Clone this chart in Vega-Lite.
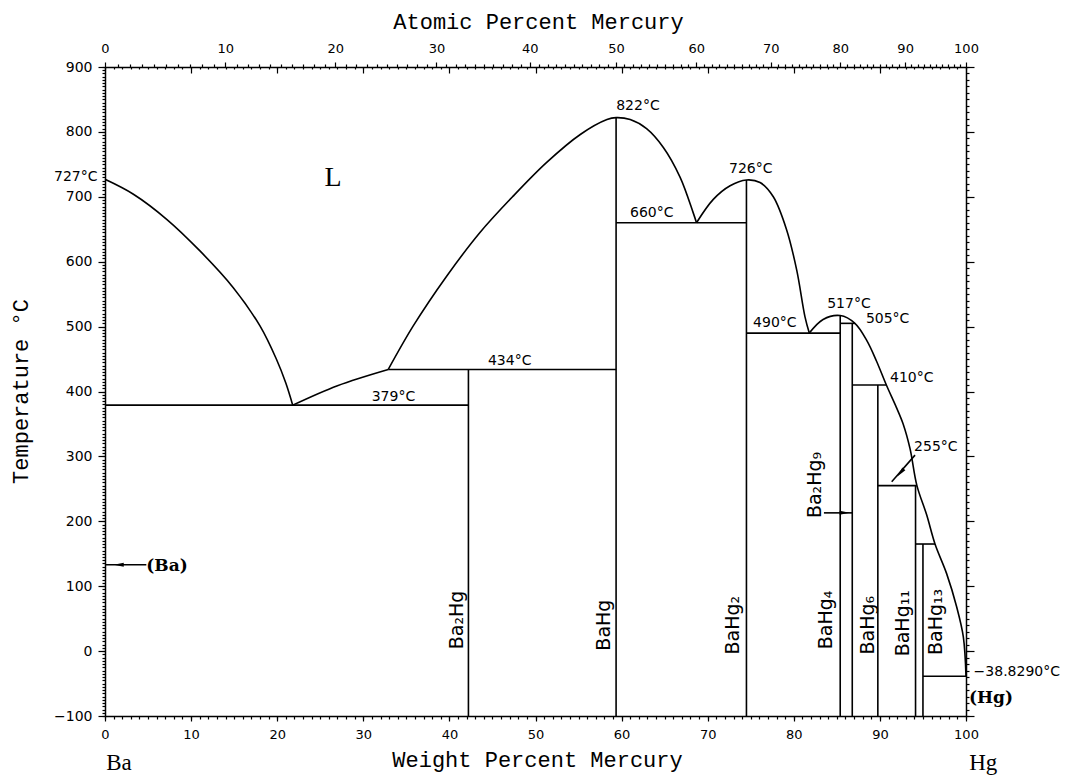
{
  "$schema": "https://vega.github.io/schema/vega-lite/v6.json",
  "width": 861,
  "height": 649,
  "autosize": {"type": "none"},
  "padding": {"left": 105, "top": 67, "right": 102, "bottom": 63},
  "background": "white",
  "config": {
    "view": {"stroke": null},
    "axis": {"domainColor": "black", "tickColor": "black", "labelColor": "black", "titleColor": "black", "grid": false, "labelFont": "DejaVu Sans", "labelFontSize": 13, "domainWidth": 1.5, "tickWidth": 1.2, "labelFlush": false, "labelOverlap": false}
  },
  "datasets": {
    "segs": [
      {"seg": "s1", "i": 0, "x": 0, "t": 379}, {"seg": "s1", "i": 1, "x": 42.21, "t": 379},
      {"seg": "s2", "i": 0, "x": 32.9, "t": 434}, {"seg": "s2", "i": 1, "x": 59.36, "t": 434},
      {"seg": "s3", "i": 0, "x": 42.21, "t": 434}, {"seg": "s3", "i": 1, "x": 42.21, "t": -100},
      {"seg": "s4", "i": 0, "x": 59.36, "t": 822}, {"seg": "s4", "i": 1, "x": 59.36, "t": -100},
      {"seg": "s5", "i": 0, "x": 59.36, "t": 660}, {"seg": "s5", "i": 1, "x": 74.5, "t": 660},
      {"seg": "s6", "i": 0, "x": 74.5, "t": 726}, {"seg": "s6", "i": 1, "x": 74.5, "t": -100},
      {"seg": "s7", "i": 0, "x": 74.5, "t": 490}, {"seg": "s7", "i": 1, "x": 85.39, "t": 490},
      {"seg": "s8", "i": 0, "x": 85.39, "t": 517}, {"seg": "s8", "i": 1, "x": 85.39, "t": -100},
      {"seg": "s9", "i": 0, "x": 85.39, "t": 505}, {"seg": "s9", "i": 1, "x": 87.1, "t": 505},
      {"seg": "s10", "i": 0, "x": 86.79, "t": 505}, {"seg": "s10", "i": 1, "x": 86.79, "t": -100},
      {"seg": "s11", "i": 0, "x": 86.79, "t": 410}, {"seg": "s11", "i": 1, "x": 90.75, "t": 410},
      {"seg": "s12", "i": 0, "x": 89.76, "t": 410}, {"seg": "s12", "i": 1, "x": 89.76, "t": -100},
      {"seg": "s13", "i": 0, "x": 89.76, "t": 255}, {"seg": "s13", "i": 1, "x": 94.3, "t": 255},
      {"seg": "s14", "i": 0, "x": 94.14, "t": 255}, {"seg": "s14", "i": 1, "x": 94.14, "t": -100},
      {"seg": "s15", "i": 0, "x": 94.14, "t": 165}, {"seg": "s15", "i": 1, "x": 96.4, "t": 165},
      {"seg": "s16", "i": 0, "x": 95.0, "t": 165}, {"seg": "s16", "i": 1, "x": 95.0, "t": -100},
      {"seg": "s17", "i": 0, "x": 95.0, "t": -38.83}, {"seg": "s17", "i": 1, "x": 100, "t": -38.83},
      {"seg": "a1", "i": 0, "x": 0, "t": 133}, {"seg": "a1", "i": 1, "x": 4.8, "t": 133},
      {"seg": "a2", "i": 0, "x": 83.5, "t": 213}, {"seg": "a2", "i": 1, "x": 86.79, "t": 213},
      {"seg": "a3", "i": 0, "x": 94.08, "t": 302}, {"seg": "a3", "i": 1, "x": 91.37, "t": 261}
    ],
    "curves": [
      {"seg": "c1", "i": 0, "x": 0, "t": 727}, {"seg": "c1", "i": 1, "x": 3.3, "t": 704}, {"seg": "c1", "i": 2, "x": 7.2, "t": 665}, {"seg": "c1", "i": 3, "x": 11.0, "t": 617}, {"seg": "c1", "i": 4, "x": 14.9, "t": 560}, {"seg": "c1", "i": 5, "x": 18.0, "t": 501}, {"seg": "c1", "i": 6, "x": 19.9, "t": 450}, {"seg": "c1", "i": 7, "x": 21.0, "t": 413}, {"seg": "c1", "i": 8, "x": 21.8, "t": 379},
      {"seg": "c2", "i": 0, "x": 21.8, "t": 379}, {"seg": "c2", "i": 1, "x": 27.0, "t": 409}, {"seg": "c2", "i": 2, "x": 32.9, "t": 434},
      {"seg": "c3", "i": 0, "x": 32.9, "t": 434}, {"seg": "c3", "i": 1, "x": 35.8, "t": 501}, {"seg": "c3", "i": 2, "x": 39.7, "t": 578}, {"seg": "c3", "i": 3, "x": 43.55, "t": 645}, {"seg": "c3", "i": 4, "x": 47.4, "t": 701}, {"seg": "c3", "i": 5, "x": 51.3, "t": 753}, {"seg": "c3", "i": 6, "x": 55.2, "t": 796}, {"seg": "c3", "i": 7, "x": 58.3, "t": 819}, {"seg": "c3", "i": 8, "x": 59.36, "t": 822}, {"seg": "c3", "i": 9, "x": 61.0, "t": 819}, {"seg": "c3", "i": 10, "x": 62.9, "t": 805}, {"seg": "c3", "i": 11, "x": 64.85, "t": 776}, {"seg": "c3", "i": 12, "x": 66.8, "t": 730}, {"seg": "c3", "i": 13, "x": 68.3, "t": 676}, {"seg": "c3", "i": 14, "x": 68.7, "t": 660},
      {"seg": "c4", "i": 0, "x": 68.7, "t": 660}, {"seg": "c4", "i": 1, "x": 70.65, "t": 696}, {"seg": "c4", "i": 2, "x": 72.6, "t": 717}, {"seg": "c4", "i": 3, "x": 74.5, "t": 726}, {"seg": "c4", "i": 4, "x": 76.08, "t": 722}, {"seg": "c4", "i": 5, "x": 77.62, "t": 700}, {"seg": "c4", "i": 6, "x": 79.17, "t": 649}, {"seg": "c4", "i": 7, "x": 80.34, "t": 587}, {"seg": "c4", "i": 8, "x": 81.3, "t": 515}, {"seg": "c4", "i": 9, "x": 81.8, "t": 490},
      {"seg": "c5", "i": 0, "x": 81.8, "t": 490}, {"seg": "c5", "i": 1, "x": 83.4, "t": 511}, {"seg": "c5", "i": 2, "x": 85.39, "t": 517}, {"seg": "c5", "i": 3, "x": 87.1, "t": 505}, {"seg": "c5", "i": 4, "x": 88.5, "t": 478}, {"seg": "c5", "i": 5, "x": 89.6, "t": 447}, {"seg": "c5", "i": 6, "x": 90.75, "t": 410}, {"seg": "c5", "i": 7, "x": 91.9, "t": 376}, {"seg": "c5", "i": 8, "x": 92.7, "t": 350}, {"seg": "c5", "i": 9, "x": 93.5, "t": 312}, {"seg": "c5", "i": 10, "x": 94.3, "t": 255}, {"seg": "c5", "i": 11, "x": 95.43, "t": 210}, {"seg": "c5", "i": 12, "x": 96.4, "t": 165}, {"seg": "c5", "i": 13, "x": 97.76, "t": 119}, {"seg": "c5", "i": 14, "x": 98.92, "t": 68}, {"seg": "c5", "i": 15, "x": 99.69, "t": 22}, {"seg": "c5", "i": 16, "x": 100, "t": -38.83}
    ],
    "tlabels": [
      {"x": -3.4, "t": 731, "label": "727°C"},
      {"x": 61.9, "t": 840, "label": "822°C"},
      {"x": 75.0, "t": 743, "label": "726°C"},
      {"x": 63.5, "t": 675, "label": "660°C"},
      {"x": 77.8, "t": 505, "label": "490°C"},
      {"x": 86.4, "t": 535, "label": "517°C"},
      {"x": 90.9, "t": 512, "label": "505°C"},
      {"x": 93.7, "t": 421, "label": "410°C"},
      {"x": 96.5, "t": 315, "label": "255°C"},
      {"x": 47.0, "t": 447, "label": "434°C"},
      {"x": 33.5, "t": 392, "label": "379°C"},
      {"x": 105.9, "t": -32, "label": "−38.8290°C"}
    ],
    "compounds": [
      {"x": 40.9, "t": 48, "label": "Ba₂Hg"},
      {"x": 57.96, "t": 40, "label": "BaHg"},
      {"x": 72.9, "t": 40, "label": "BaHg₂"},
      {"x": 82.46, "t": 256, "label": "Ba₂Hg₉"},
      {"x": 83.74, "t": 48, "label": "BaHg₄"},
      {"x": 88.6, "t": 40, "label": "BaHg₆"},
      {"x": 92.7, "t": 43, "label": "BaHg₁₁"},
      {"x": 96.5, "t": 45, "label": "BaHg₁₃"}
    ],
    "serif": [
      {"x": 26.5, "t": 729, "label": "L", "kind": "big"},
      {"x": 1.63, "t": -172, "label": "Ba", "kind": "el"},
      {"x": 102.0, "t": -172, "label": "Hg", "kind": "el"}
    ],
    "parens": [
      {"x": 7.2, "t": 131, "label": "(Ba)"},
      {"x": 102.9, "t": -72, "label": "(Hg)"}
    ],
    "headL": [{"x": 1.6, "t": 133}],
    "headR": [{"x": 85.9, "t": 213}],
    "headD": [{"x": 92.4, "t": 275}]
  },
  "resolve": {"axis": {"x": "independent", "y": "independent"}},
  "layer": [
    {
      "data": {"name": "segs"},
      "mark": {"type": "line", "color": "black", "strokeWidth": 1.6},
      "encoding": {
        "x": {"field": "x", "type": "quantitative", "scale": {"domain": [0, 100], "nice": false, "zero": false},
          "axis": {"orient": "bottom", "values": [0, 10, 20, 30, 40, 50, 60, 70, 80, 90, 100], "tickSize": 5, "labelPadding": 7, "labelFontSize": 13, "domain": true,
            "title": "Weight  Percent  Mercury", "titleFont": "Liberation Mono", "titleFontSize": 22, "titleFontWeight": "normal", "titleX": 432, "titleY": 50, "titleAlign": "center", "titleBaseline": "alphabetic"}},
        "y": {"field": "t", "type": "quantitative", "scale": {"domain": [-100, 900], "nice": false, "zero": false},
          "axis": {"orient": "left", "values": [-100, 0, 100, 200, 300, 400, 500, 600, 700, 800, 900], "tickSize": 7, "labelPadding": 6, "labelFontSize": 14, "domain": true,
            "title": "Temperature  °C", "titleFont": "Liberation Mono", "titleFontSize": 22, "titleFontWeight": "normal", "titleAngle": -90, "titleX": -78, "titleY": 324, "titleAlign": "center", "titleBaseline": "alphabetic"}},
        "detail": {"field": "seg"},
        "order": {"field": "i"}
      }
    },
    {
      "data": {"name": "curves"},
      "mark": {"type": "line", "color": "black", "strokeWidth": 1.6, "interpolate": "catmull-rom"},
      "encoding": {
        "x": {"field": "x", "type": "quantitative", "scale": {"domain": [0, 100], "nice": false, "zero": false},
          "axis": {"orient": "bottom", "tickCount": 100, "tickSize": 3, "labels": false, "domain": false, "title": null}},
        "y": {"field": "t", "type": "quantitative", "scale": {"domain": [-100, 900], "nice": false, "zero": false},
          "axis": {"orient": "left", "tickCount": 200, "tickSize": 3, "labels": false, "domain": false, "title": null}},
        "detail": {"field": "seg"},
        "order": {"field": "i"}
      }
    },
    {
      "data": {"name": "tlabels"},
      "mark": {"type": "text", "font": "DejaVu Sans", "fontSize": 14, "color": "black", "align": "center", "baseline": "middle"},
      "encoding": {
        "x": {"field": "x", "type": "quantitative", "scale": {"domain": [0, 100], "nice": false, "zero": false},
          "axis": {"orient": "top", "values": [0, 13.963, 26.749, 38.499, 49.335, 59.36, 68.661, 77.315, 85.386, 92.931, 100], "tickSize": 5, "labelPadding": 7, "labelFontSize": 13, "domain": true,
            "labelExpr": "round(100*(datum.value/200.59)/((datum.value/200.59)+((100-datum.value)/137.33)))",
            "title": "Atomic  Percent  Mercury", "titleFont": "Liberation Mono", "titleFontSize": 22, "titleFontWeight": "normal", "titleX": 433, "titleY": -39, "titleAlign": "center", "titleBaseline": "alphabetic"}},
        "y": {"field": "t", "type": "quantitative", "scale": {"domain": [-100, 900], "nice": false, "zero": false},
          "axis": {"orient": "right", "values": [-100, 0, 100, 200, 300, 400, 500, 600, 700, 800, 900], "tickSize": 8, "labels": false, "domain": true, "title": null}},
        "text": {"field": "label"}
      }
    },
    {
      "data": {"name": "compounds"},
      "mark": {"type": "text", "font": "DejaVu Sans", "fontSize": 19, "color": "black", "align": "center", "baseline": "middle", "angle": 270},
      "encoding": {
        "x": {"field": "x", "type": "quantitative", "scale": {"domain": [0, 100], "nice": false, "zero": false},
          "axis": {"orient": "top", "values": [1.4539, 2.8946, 4.3222, 5.7369, 7.1388, 8.5282, 9.9051, 11.2698, 12.6225, 15.2922, 16.6096, 17.9155, 19.2101, 20.4936, 21.766, 23.0275, 24.2787, 25.5186, 27.968, 29.1775, 30.3764, 31.5653, 32.7451, 33.9153, 35.0758, 36.2256, 37.367, 39.6219, 40.7359, 41.841, 42.9374, 44.0246, 45.1034, 46.174, 47.236, 48.2898, 50.3729, 51.4022, 52.4235, 53.4374, 54.4433, 55.4416, 56.4324, 57.4159, 58.3918, 60.3214, 61.2759, 62.2226, 63.163, 64.0967, 65.0227, 65.9425, 66.8554, 67.7617, 69.5549, 70.4418, 71.3224, 72.1964, 73.065, 73.9267, 74.7828, 75.6328, 76.4764, 78.147, 78.9738, 79.7945, 80.6097, 81.4194, 82.2233, 83.0224, 83.8153, 84.6031, 86.1631, 86.935, 87.7018, 88.4638, 89.2203, 89.9724, 90.7193, 91.461, 92.1984, 93.6573, 94.381, 95.0992, 95.813, 96.5223, 97.2266, 97.9257, 98.6207, 99.313], "tickSize": 3, "labels": false, "domain": false, "title": null}},
        "y": {"field": "t", "type": "quantitative", "scale": {"domain": [-100, 900], "nice": false, "zero": false},
          "axis": {"orient": "right", "tickCount": 100, "tickSize": 3, "labels": false, "domain": false, "title": null}},
        "text": {"field": "label"}
      }
    },
    {
      "data": {"name": "serif"},
      "transform": [{"filter": "datum.kind === 'el'"}],
      "mark": {"type": "text", "font": "Liberation Serif", "fontSize": 23, "color": "black", "align": "center", "baseline": "middle"},
      "encoding": {
        "x": {"field": "x", "type": "quantitative", "scale": {"domain": [0, 100], "nice": false, "zero": false},
          "axis": {"orient": "top", "values": [10, 20, 30, 40, 50, 60, 70, 80, 90], "tickSize": -6, "labels": false, "domain": false, "title": null}},
        "y": {"field": "t", "type": "quantitative", "scale": {"domain": [-100, 900], "nice": false, "zero": false}, "axis": null},
        "text": {"field": "label"}
      }
    },
    {
      "data": {"name": "serif"},
      "transform": [{"filter": "datum.kind === 'big'"}],
      "mark": {"type": "text", "font": "Liberation Serif", "fontSize": 28, "color": "black", "align": "center", "baseline": "middle"},
      "encoding": {
        "x": {"field": "x", "type": "quantitative", "scale": {"domain": [0, 100], "nice": false, "zero": false}, "axis": null},
        "y": {"field": "t", "type": "quantitative", "scale": {"domain": [-100, 900], "nice": false, "zero": false}, "axis": null},
        "text": {"field": "label"}
      }
    },
    {
      "data": {"name": "parens"},
      "mark": {"type": "text", "font": "DejaVu Serif", "fontSize": 17, "fontWeight": "bold", "color": "black", "align": "center", "baseline": "middle"},
      "encoding": {
        "x": {"field": "x", "type": "quantitative", "scale": {"domain": [0, 100], "nice": false, "zero": false},
          "axis": {"orient": "top", "tickCount": 100, "tickSize": -2, "labels": false, "domain": false, "title": null}},
        "y": {"field": "t", "type": "quantitative", "scale": {"domain": [-100, 900], "nice": false, "zero": false}, "axis": null},
        "text": {"field": "label"}
      }
    },
    {
      "data": {"name": "headL"},
      "mark": {"type": "point", "shape": "M -1 0 L 1 -0.4 L 1 0.4 Z", "filled": true, "color": "black", "opacity": 1, "size": 100},
      "encoding": {
        "x": {"field": "x", "type": "quantitative", "scale": {"domain": [0, 100], "nice": false, "zero": false}, "axis": null},
        "y": {"field": "t", "type": "quantitative", "scale": {"domain": [-100, 900], "nice": false, "zero": false}, "axis": null}
      }
    },
    {
      "data": {"name": "headR"},
      "mark": {"type": "point", "shape": "M 1 0 L -1 -0.4 L -1 0.4 Z", "filled": true, "color": "black", "opacity": 1, "size": 100},
      "encoding": {
        "x": {"field": "x", "type": "quantitative", "scale": {"domain": [0, 100], "nice": false, "zero": false}, "axis": null},
        "y": {"field": "t", "type": "quantitative", "scale": {"domain": [-100, 900], "nice": false, "zero": false}, "axis": null}
      }
    },
    {
      "data": {"name": "headD"},
      "mark": {"type": "point", "shape": "M -0.658 0.753 L 0.959 -0.49 L 0.357 -1.016 Z", "filled": true, "color": "black", "opacity": 1, "size": 100},
      "encoding": {
        "x": {"field": "x", "type": "quantitative", "scale": {"domain": [0, 100], "nice": false, "zero": false}, "axis": null},
        "y": {"field": "t", "type": "quantitative", "scale": {"domain": [-100, 900], "nice": false, "zero": false}, "axis": null}
      }
    }
  ]
}
